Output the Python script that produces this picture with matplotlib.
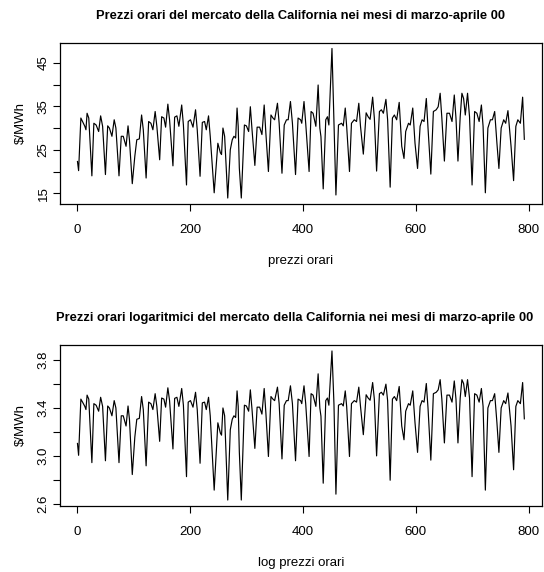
"""Hourly California market prices, March-April 2000 (levels and logs)."""

from __future__ import annotations

from pathlib import Path

import matplotlib

matplotlib.use("Agg", force=True)

import matplotlib.pyplot as plt
import numpy as np
from matplotlib import font_manager

# turning points of the hourly series (hour, $/MWh)
hours = [
    1, 3, 7, 10, 14, 16, 18, 21, 26.5,
    30, 34, 38.5, 42, 45.5, 50.5,
    54.5, 57.5, 62, 66, 69, 74.5,
    78.5, 82, 87, 90.5, 93, 98,
    102.5, 106, 110.5, 114.5, 117.5, 122.5,
    127, 131, 134.5, 138.5, 141.5, 146.5,
    150, 154, 157, 161, 164, 170,
    173, 177, 180.5, 185.5, 188.5, 194,
    197, 201, 205.5, 210, 213, 218,
    222, 226, 229, 233, 236, 243,
    249.5, 254, 256, 258.5, 261.5, 267,
    271.5, 275, 278, 281, 283.5, 285.5, 287.5, 291,
    296.5, 300, 304, 307, 310, 315,
    319, 323.5, 327.5, 331.5, 334.5, 339,
    343.5, 347, 350, 355, 358, 363,
    367, 371, 374, 378, 381.5, 387,
    391.5, 396, 398, 402, 405, 411,
    414.5, 418, 423, 427, 430, 432, 436,
    440.5, 443.5, 446, 451.5, 455, 458.5,
    463, 468.5, 471.5, 475, 477.5, 482.5,
    486, 491, 495, 499, 502, 507,
    512, 515.5, 519, 523.5, 526.5, 530.5,
    535.5, 539, 542.5, 547, 550, 554.5,
    558.5, 562, 566, 570.5, 575, 579,
    582, 587, 590, 594.5, 598.5, 603,
    607.5, 611, 614.5, 618.5, 621.5, 626.5,
    631, 636, 639.5, 643, 646, 650.5,
    655, 659.5, 664, 668, 671, 674.5,
    678.5, 681.5, 684.5, 687.5, 691.5, 695, 699.5,
    704, 708, 712, 716, 719, 723,
    727.5, 732, 735.5, 739.5, 743.5, 747,
    751, 755.5, 759, 763, 768.5, 773,
    777, 780.5, 785, 789, 792,
]
prices = [
    22.3, 20.2, 32.3, 31.5, 30.4, 29.6, 33.4, 32.3, 19.0,
    31.1, 30.7, 29.2, 32.8, 30.4, 19.3,
    30.5, 30.0, 28.1, 31.9, 30.0, 19.0,
    28.1, 28.1, 25.8, 30.5, 27.3, 17.2,
    23.5, 27.3, 27.5, 33.0, 29.6, 18.5,
    31.5, 31.1, 29.6, 33.8, 30.4, 22.7,
    32.6, 32.3, 30.2, 35.5, 31.9, 21.3,
    32.5, 32.8, 30.4, 35.3, 30.7, 16.9,
    31.5, 31.9, 30.2, 34.2, 29.6, 18.9,
    31.3, 31.5, 29.6, 32.8, 28.1, 15.1,
    26.5, 24.3, 23.9, 30.0, 28.1, 13.9,
    25.0, 27.3, 28.1, 27.7, 34.6, 30.4, 20.8, 13.9,
    30.7, 30.5, 29.2, 34.9, 29.6, 21.4,
    30.2, 30.2, 28.5, 35.3, 28.8, 20.0,
    33.0, 32.3, 31.9, 35.7, 31.1, 19.6,
    30.7, 31.9, 31.9, 36.1, 31.1, 19.3,
    32.3, 31.9, 31.1, 36.1, 31.1, 20.0,
    33.8, 33.4, 30.4, 39.9, 30.0, 28.0, 16.0,
    31.9, 32.6, 30.7, 48.3, 31.1, 14.6,
    30.7, 31.1, 30.5, 34.6, 30.4, 20.0,
    31.1, 31.9, 31.5, 35.7, 30.4, 24.0,
    33.5, 32.6, 32.0, 37.1, 32.3, 20.1,
    33.8, 34.2, 33.4, 36.6, 31.9, 16.4,
    32.3, 33.0, 31.9, 35.9, 25.8, 23.0,
    29.2, 31.1, 30.7, 34.6, 26.5, 20.7,
    30.4, 31.9, 31.5, 36.8, 30.0, 19.4,
    33.8, 34.2, 34.9, 38.0, 32.3, 22.4,
    33.4, 33.4, 31.5, 37.6, 32.3, 22.4,
    32.6, 38.0, 36.8, 33.0, 38.0, 32.6, 16.9,
    33.8, 33.4, 31.5, 35.3, 30.4, 15.1,
    30.0, 31.9, 31.9, 33.8, 26.5, 20.7,
    30.0, 31.9, 31.1, 34.0, 25.8, 17.9,
    30.4, 31.9, 31.1, 37.1, 27.4,
]

x_ticks = [0, 200, 400, 600, 800]
price_ticks = [15, 20, 25, 30, 35, 40, 45]
price_labels = ["15", "", "25", "", "35", "", "45"]
log_ticks = [2.6, 2.8, 3.0, 3.2, 3.4, 3.6, 3.8]
log_labels = ["2.6", "", "3.0", "", "3.4", "", "3.8"]

titles = [
    "Prezzi orari del mercato della California nei mesi di marzo-aprile 00",
    "Prezzi orari logaritmici del mercato della California nei mesi di marzo-aprile 00",
]
x_labels = ["prezzi orari", "log prezzi orari"]
y_label = "\\$/MWh"

_available = {f.name for f in font_manager.fontManager.ttflist}
FONT = "Liberation Sans Narrow" if "Liberation Sans Narrow" in _available else "Liberation Sans"
plt.rcParams["font.family"] = [FONT, "DejaVu Sans"]

W, H = 544, 572


def _panel(
    fig: plt.Figure,
    rect: tuple[float, float, float, float],
    x: np.ndarray,
    y: np.ndarray,
    *,
    ticks: list[float],
    tick_labels: list[str],
    title: str,
    title_x: float,
    xlabel: str,
) -> plt.Axes:
    left, top, right, bottom = rect
    ax = fig.add_axes(
        (left / W, 1 - bottom / H, (right - left) / W, (bottom - top) / H)
    )
    ax.plot(x, y, color="black", linewidth=0.85)
    ax.margins(x=0.04, y=0.04)
    ax.set_xticks(x_ticks)
    ax.set_xticklabels([str(t) for t in x_ticks])
    ax.set_yticks(ticks)
    ax.set_yticklabels(tick_labels)
    ax.tick_params(axis="both", length=5, width=0.8, labelsize=9.5, color="black")
    ax.tick_params(axis="x", pad=9.5)
    ax.tick_params(axis="y", pad=2.2)
    plt.setp(ax.get_yticklabels(), rotation=90, va="center")
    for spine in ax.spines.values():
        spine.set_linewidth(0.9)

    height = bottom - top
    width = right - left
    ax.text((title_x - left) / width, 1 + 27 / height, title, transform=ax.transAxes,
            ha="center", va="center", fontsize=9.3, fontweight="bold")
    ax.text(0.5, -57 / height, xlabel, transform=ax.transAxes,
            ha="center", va="center", fontsize=9.5)
    ax.text(-38.6 / width, 0.5, y_label, transform=ax.transAxes,
            ha="center", va="center", rotation=90, fontsize=9.5)
    return ax


def main() -> Path:
    output_path = Path("out.png")
    x = np.asarray(hours, dtype=float)
    y = np.asarray(prices, dtype=float)

    fig = plt.figure(figsize=(W / 100, H / 100), dpi=100)
    _panel(fig, (59.6, 42.5, 542.2, 204.0), x, y,
           ticks=price_ticks, tick_labels=price_labels,
           title=titles[0], title_x=301.0, xlabel=x_labels[0])
    _panel(fig, (59.6, 345.0, 542.2, 506.0), x, np.log(y),
           ticks=log_ticks, tick_labels=log_labels,
           title=titles[1], title_x=295.0, xlabel=x_labels[1])
    fig.savefig(output_path, dpi=100)
    plt.close(fig)
    return output_path


if __name__ == "__main__":
    main()
